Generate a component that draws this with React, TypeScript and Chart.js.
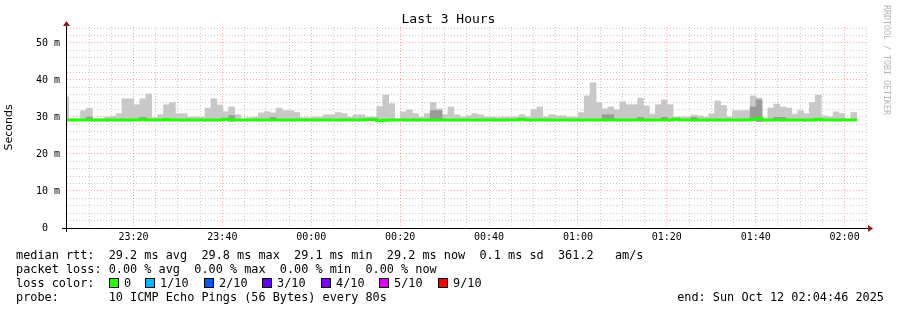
import React, { useEffect, useRef } from 'react';
import { Chart, registerables } from 'chart.js';

Chart.register(...registerables);

// ---- time frame (minutes after 23:00) ----
const X_MIN = 5.04;
const X_MAX = 185.04;
const STEP_MIN = 80 / 60; // one 80 s probe step
const FIRST_STEP_END = 5.42;
const Y_MAX = 54.3;

// ---- tick labels ----
const xTickMinutes = [20, 40, 60, 80, 100, 120, 140, 160, 180];
const xTickLabels = ['23:20', '23:40', '00:00', '00:20', '00:40', '01:00', '01:20', '01:40', '02:00'];
const yTickValues = [0, 10, 20, 30, 40, 50];
const yTickLabels = ['0  ', '10 m', '20 m', '30 m', '40 m', '50 m'];

// ---- smoke: top of the outer (lightest) band, ms, one per 80 s step ----
const smokeTop = [
  35.4, 29.5, 29.5, 31.7, 32.4, 29.5, 29.5, 30.0, 30.2, 30.9,
  34.9, 34.9, 33.3, 34.9, 36.2, 29.8, 30.6, 33.3, 33.9, 30.9,
  30.9, 30.0, 30.0, 30.0, 32.4, 34.9, 33.2, 31.4, 32.7, 30.6,
  29.5, 29.8, 30.0, 31.1, 31.4, 31.1, 32.4, 31.7, 31.7, 31.2,
  29.8, 29.8, 30.0, 30.0, 30.6, 30.6, 31.2, 30.9, 30.0, 30.6,
  30.6, 30.0, 30.0, 32.8, 35.9, 33.6, 29.5, 31.4, 31.9, 30.9,
  30.0, 30.9, 33.9, 32.2, 30.6, 32.7, 30.6, 30.0, 30.3, 30.9,
  30.6, 30.0, 30.0, 29.8, 30.0, 30.0, 30.0, 30.6, 30.0, 32.0,
  32.7, 30.0, 30.6, 30.3, 30.3, 30.0, 30.0, 31.2, 35.7, 39.2,
  33.9, 32.2, 32.7, 31.9, 34.1, 33.3, 33.3, 35.1, 33.0, 30.8,
  33.3, 34.6, 33.3, 30.0, 30.0, 30.0, 30.5, 30.3, 30.0, 30.9,
  34.3, 33.1, 30.0, 31.7, 31.7, 31.7, 35.7, 35.1, 29.5, 32.4,
  33.5, 32.7, 32.4, 30.8, 31.7, 30.9, 33.9, 35.9, 30.3, 30.0,
  31.4, 30.9, 29.5, 31.2,
];

// ---- smoke: bottom (fastest ping), ms ----
const smokeMin = [
  29.0, 29.0, 29.0, 29.0, 29.0, 29.0, 29.0, 29.0, 29.0, 29.0,
  29.0, 29.0, 29.0, 29.0, 29.0, 29.0, 29.0, 29.0, 29.0, 29.0,
  29.0, 29.0, 29.0, 29.0, 29.0, 29.0, 29.0, 29.0, 28.9, 29.0,
  29.0, 29.0, 29.0, 29.0, 29.0, 29.0, 29.0, 29.0, 29.0, 29.0,
  29.0, 29.0, 29.0, 29.0, 29.0, 29.0, 29.0, 29.0, 29.0, 29.0,
  29.0, 29.0, 29.0, 28.9, 29.0, 29.0, 29.0, 29.0, 29.0, 29.0,
  29.0, 29.0, 29.0, 29.0, 29.0, 29.0, 29.0, 29.0, 29.0, 29.0,
  29.0, 29.0, 29.0, 29.0, 29.0, 29.0, 29.0, 29.0, 29.0, 29.0,
  29.0, 29.0, 29.0, 29.0, 29.0, 29.0, 29.0, 29.0, 29.0, 29.0,
  29.0, 29.0, 29.0, 29.0, 29.0, 29.0, 29.0, 29.0, 29.0, 29.0,
  29.0, 29.0, 29.0, 29.0, 29.0, 29.0, 29.0, 29.0, 29.0, 29.0,
  29.0, 29.0, 29.0, 29.0, 29.0, 29.0, 29.0, 28.8, 29.0, 29.0,
  29.0, 29.0, 29.0, 29.0, 29.0, 29.0, 29.0, 29.0, 29.0, 29.0,
  29.0, 29.0, 29.0, 29.0,
];

// ---- inner (darker) smoke band: step index and top, ms ----
const innerIdx = [4, 13, 28, 35, 62, 63, 91, 92, 97, 101, 106, 116, 117, 120, 121];
const innerTop = [30.0, 29.9, 30.4, 29.9, 31.7, 31.7, 30.6, 30.6, 29.9, 29.9, 29.9, 32.7, 34.6, 29.9, 29.9];

// ---- median rtt, ms ----
const median = [
  29.2, 29.2, 29.2, 29.2, 29.2, 29.2, 29.2, 29.2, 29.2, 29.2,
  29.2, 29.2, 29.2, 29.3, 29.2, 29.2, 29.2, 29.3, 29.2, 29.2,
  29.2, 29.2, 29.2, 29.2, 29.2, 29.2, 29.2, 29.4, 29.2, 29.2,
  29.2, 29.2, 29.2, 29.2, 29.2, 29.2, 29.2, 29.2, 29.2, 29.2,
  29.2, 29.2, 29.2, 29.2, 29.2, 29.2, 29.2, 29.2, 29.2, 29.2,
  29.2, 29.3, 29.3, 29.0, 29.1, 29.2, 29.2, 29.2, 29.2, 29.2,
  29.2, 29.2, 29.2, 29.2, 29.2, 29.2, 29.2, 29.2, 29.2, 29.2,
  29.2, 29.2, 29.2, 29.2, 29.2, 29.2, 29.2, 29.35, 29.2, 29.2,
  29.2, 29.2, 29.2, 29.2, 29.2, 29.2, 29.2, 29.2, 29.2, 29.2,
  29.2, 29.2, 29.2, 29.2, 29.2, 29.2, 29.2, 29.2, 29.2, 29.2,
  29.2, 29.2, 29.2, 29.35, 29.2, 29.2, 29.2, 29.2, 29.2, 29.2,
  29.2, 29.2, 29.2, 29.2, 29.2, 29.2, 29.4, 29.6, 29.2, 29.2,
  29.2, 29.2, 29.2, 29.2, 29.2, 29.2, 29.2, 29.35, 29.2, 29.2,
  29.2, 29.2, 29.2, 29.2,
];

// ---- legend ----
const lossLabels = ['0', '1/10', '2/10', '3/10', '4/10', '5/10', '9/10'];
const lossColors = ['#26ff00', '#00b8ff', '#0059ff', '#5e00ff', '#7e00ff', '#dd00ff', '#ff0000'];
const lossBoxX = [109, 145, 204, 262, 321, 379, 438];
const lossTextX = [124, 160, 219, 277, 336, 394, 453];

const stepCenter = (j: number) => FIRST_STEP_END + (j - 0.5) * STEP_MIN;

const MONO = '"DejaVu Sans Mono", monospace';
const MINOR_GRID = 'rgba(140,140,140,0.45)';
const MAJOR_GRID = 'rgba(255,0,0,0.35)';

const axesPlugin = {
  id: 'rrdAxes',
  afterDraw(chart: any) {
    const { ctx, chartArea: a } = chart;
    ctx.save();
    const yb = Math.round(a.bottom) + 0.5;
    const xl = Math.round(a.left) - 0.5;
    ctx.strokeStyle = '#000';
    ctx.lineWidth = 1;
    ctx.beginPath();
    ctx.moveTo(a.left - 5, yb);
    ctx.lineTo(a.right + 2, yb);
    ctx.moveTo(xl, a.bottom + 4);
    ctx.lineTo(xl, a.top - 3);
    ctx.stroke();
    ctx.fillStyle = '#8b1a1a';
    ctx.beginPath();
    ctx.moveTo(a.right + 1, yb - 3.5);
    ctx.lineTo(a.right + 6, yb);
    ctx.lineTo(a.right + 1, yb + 3.5);
    ctx.closePath();
    ctx.fill();
    ctx.beginPath();
    ctx.moveTo(xl - 3.5, a.top - 1);
    ctx.lineTo(xl, a.top - 6);
    ctx.lineTo(xl + 3.5, a.top - 1);
    ctx.closePath();
    ctx.fill();
    ctx.restore();
  },
};

export default function App() {
  const canvasRef = useRef<HTMLCanvasElement | null>(null);

  useEffect(() => {
    if (!canvasRef.current) return;
    const lightData = smokeTop.map((hi, j) => ({ x: stepCenter(j), y: [smokeMin[j], hi] }));
    const midData = innerIdx.map((j, k) => ({ x: stepCenter(j), y: [smokeMin[j], innerTop[k]] }));
    const medData = median.map((v, j) => ({ x: stepCenter(j), y: v }));
    medData.push({ x: FIRST_STEP_END + (median.length - 1) * STEP_MIN, y: median[median.length - 1] });

    const chart = new Chart(canvasRef.current, {
      type: 'bar',
      data: {
        datasets: [
          {
            type: 'line',
            label: 'median',
            data: medData as any,
            borderColor: '#22ff00',
            borderWidth: 3,
            pointRadius: 0,
            stepped: 'middle',
            fill: false,
            order: 0,
            clip: 0,
          } as any,
          {
            label: 'inner smoke',
            data: midData as any,
            backgroundColor: '#9a9a9a',
            borderWidth: 0,
            barPercentage: 1,
            categoryPercentage: 1,
            grouped: false,
            order: 1,
          } as any,
          {
            label: 'smoke',
            data: lightData as any,
            backgroundColor: '#c8c8c8',
            borderWidth: 0,
            barPercentage: 1,
            categoryPercentage: 1,
            grouped: false,
            order: 2,
          } as any,
        ],
      },
      options: {
        responsive: false,
        animation: false,
        devicePixelRatio: 1,
        layout: { padding: { top: 27, right: 30, bottom: 0, left: 0 } },
        plugins: {
          legend: { display: false },
          tooltip: { enabled: false },
          title: { display: false },
        },
        scales: {
          x: {
            type: 'linear',
            min: X_MIN,
            max: X_MAX,
            offset: false,
            z: 1,
            afterFit: (s: any) => { s.height = 82; },
            afterBuildTicks: (s: any) => {
              const t = [];
              for (let m = 10; m <= 185; m += 5) t.push({ value: m });
              s.ticks = t;
            },
            grid: {
              offset: false,
              drawTicks: false,
              lineWidth: 1,
              color: (c: any) => (c.tick && c.tick.value % 20 === 0 ? MAJOR_GRID : MINOR_GRID),
            },
            border: { display: false, dash: [1, 2] },
            ticks: {
              autoSkip: false,
              maxRotation: 0,
              minRotation: 0,
              padding: 3,
              color: '#000',
              font: { family: MONO, size: 10 },
              callback: (v: any) => {
                const i = xTickMinutes.indexOf(Number(v));
                return i >= 0 ? xTickLabels[i] : '';
              },
            },
          },
          y: {
            type: 'linear',
            min: 0,
            max: Y_MAX,
            z: 1,
            afterFit: (s: any) => { s.width = 67; },
            afterBuildTicks: (s: any) => {
              const t = [];
              for (let v = 0; v <= 54; v += 2) t.push({ value: v });
              s.ticks = t;
            },
            grid: {
              drawTicks: false,
              lineWidth: 1,
              color: (c: any) => (c.tick && c.tick.value % 10 === 0 ? MAJOR_GRID : MINOR_GRID),
            },
            border: { display: false, dash: [1, 2] },
            title: {
              display: true,
              text: 'Seconds',
              color: '#000',
              font: { family: '"DejaVu Sans", sans-serif', size: 11 },
              padding: { top: 3, bottom: 0 },
            },
            ticks: {
              autoSkip: false,
              padding: 7,
              color: '#000',
              font: { family: MONO, size: 10 },
              callback: (v: any) => {
                const i = yTickValues.indexOf(Number(v));
                return i >= 0 ? yTickLabels[i] : '';
              },
            },
          },
        },
      } as any,
      plugins: [axesPlugin],
    });
    return () => chart.destroy();
  }, []);

  const rowStyle = (top: number): React.CSSProperties => ({
    position: 'absolute',
    left: 16,
    top,
    whiteSpace: 'pre',
    fontFamily: MONO,
    fontSize: '11.85px',
    lineHeight: '14px',
    color: '#000',
  });

  return (
    <div style={{ position: 'fixed', left: 0, top: 0, width: 897, height: 310, background: '#fff', overflow: 'hidden' }}>
      <canvas ref={canvasRef} width={897} height={310} style={{ position: 'absolute', left: 0, top: 0 }} />
      <div
        style={{
          position: 'absolute', left: 0, top: 11, width: 897, textAlign: 'center',
          fontFamily: MONO, fontSize: '13px', lineHeight: '16px', color: '#000',
        }}
      >
        Last 3 Hours
      </div>
      <div
        style={{
          position: 'absolute', left: 882, top: 5, writingMode: 'vertical-rl',
          fontFamily: MONO, fontSize: '8.3px', lineHeight: '10px', color: '#b4b4b4', whiteSpace: 'pre',
        }}
      >
        RRDTOOL / TOBI OETIKER
      </div>
      <div style={rowStyle(248)}>
        {'median rtt:  29.2 ms avg  29.8 ms max  29.1 ms min  29.2 ms now  0.1 ms sd  361.2   am/s'}
      </div>
      <div style={rowStyle(262)}>
        {'packet loss: 0.00 % avg  0.00 % max  0.00 % min  0.00 % now'}
      </div>
      <div style={rowStyle(276)}>{'loss color:'}</div>
      {lossLabels.map((lab, i) => (
        <React.Fragment key={lab}>
          <div
            style={{
              position: 'absolute', left: lossBoxX[i], top: 278, width: 8, height: 8,
              background: lossColors[i], border: '1px solid #000',
            }}
          />
          <div style={{ ...rowStyle(276), left: lossTextX[i] }}>{lab}</div>
        </React.Fragment>
      ))}
      <div style={rowStyle(290)}>{'probe:       10 ICMP Echo Pings (56 Bytes) every 80s'}</div>
      <div style={{ ...rowStyle(290), left: 'auto', right: 13 }}>{'end: Sun Oct 12 02:04:46 2025'}</div>
    </div>
  );
}
